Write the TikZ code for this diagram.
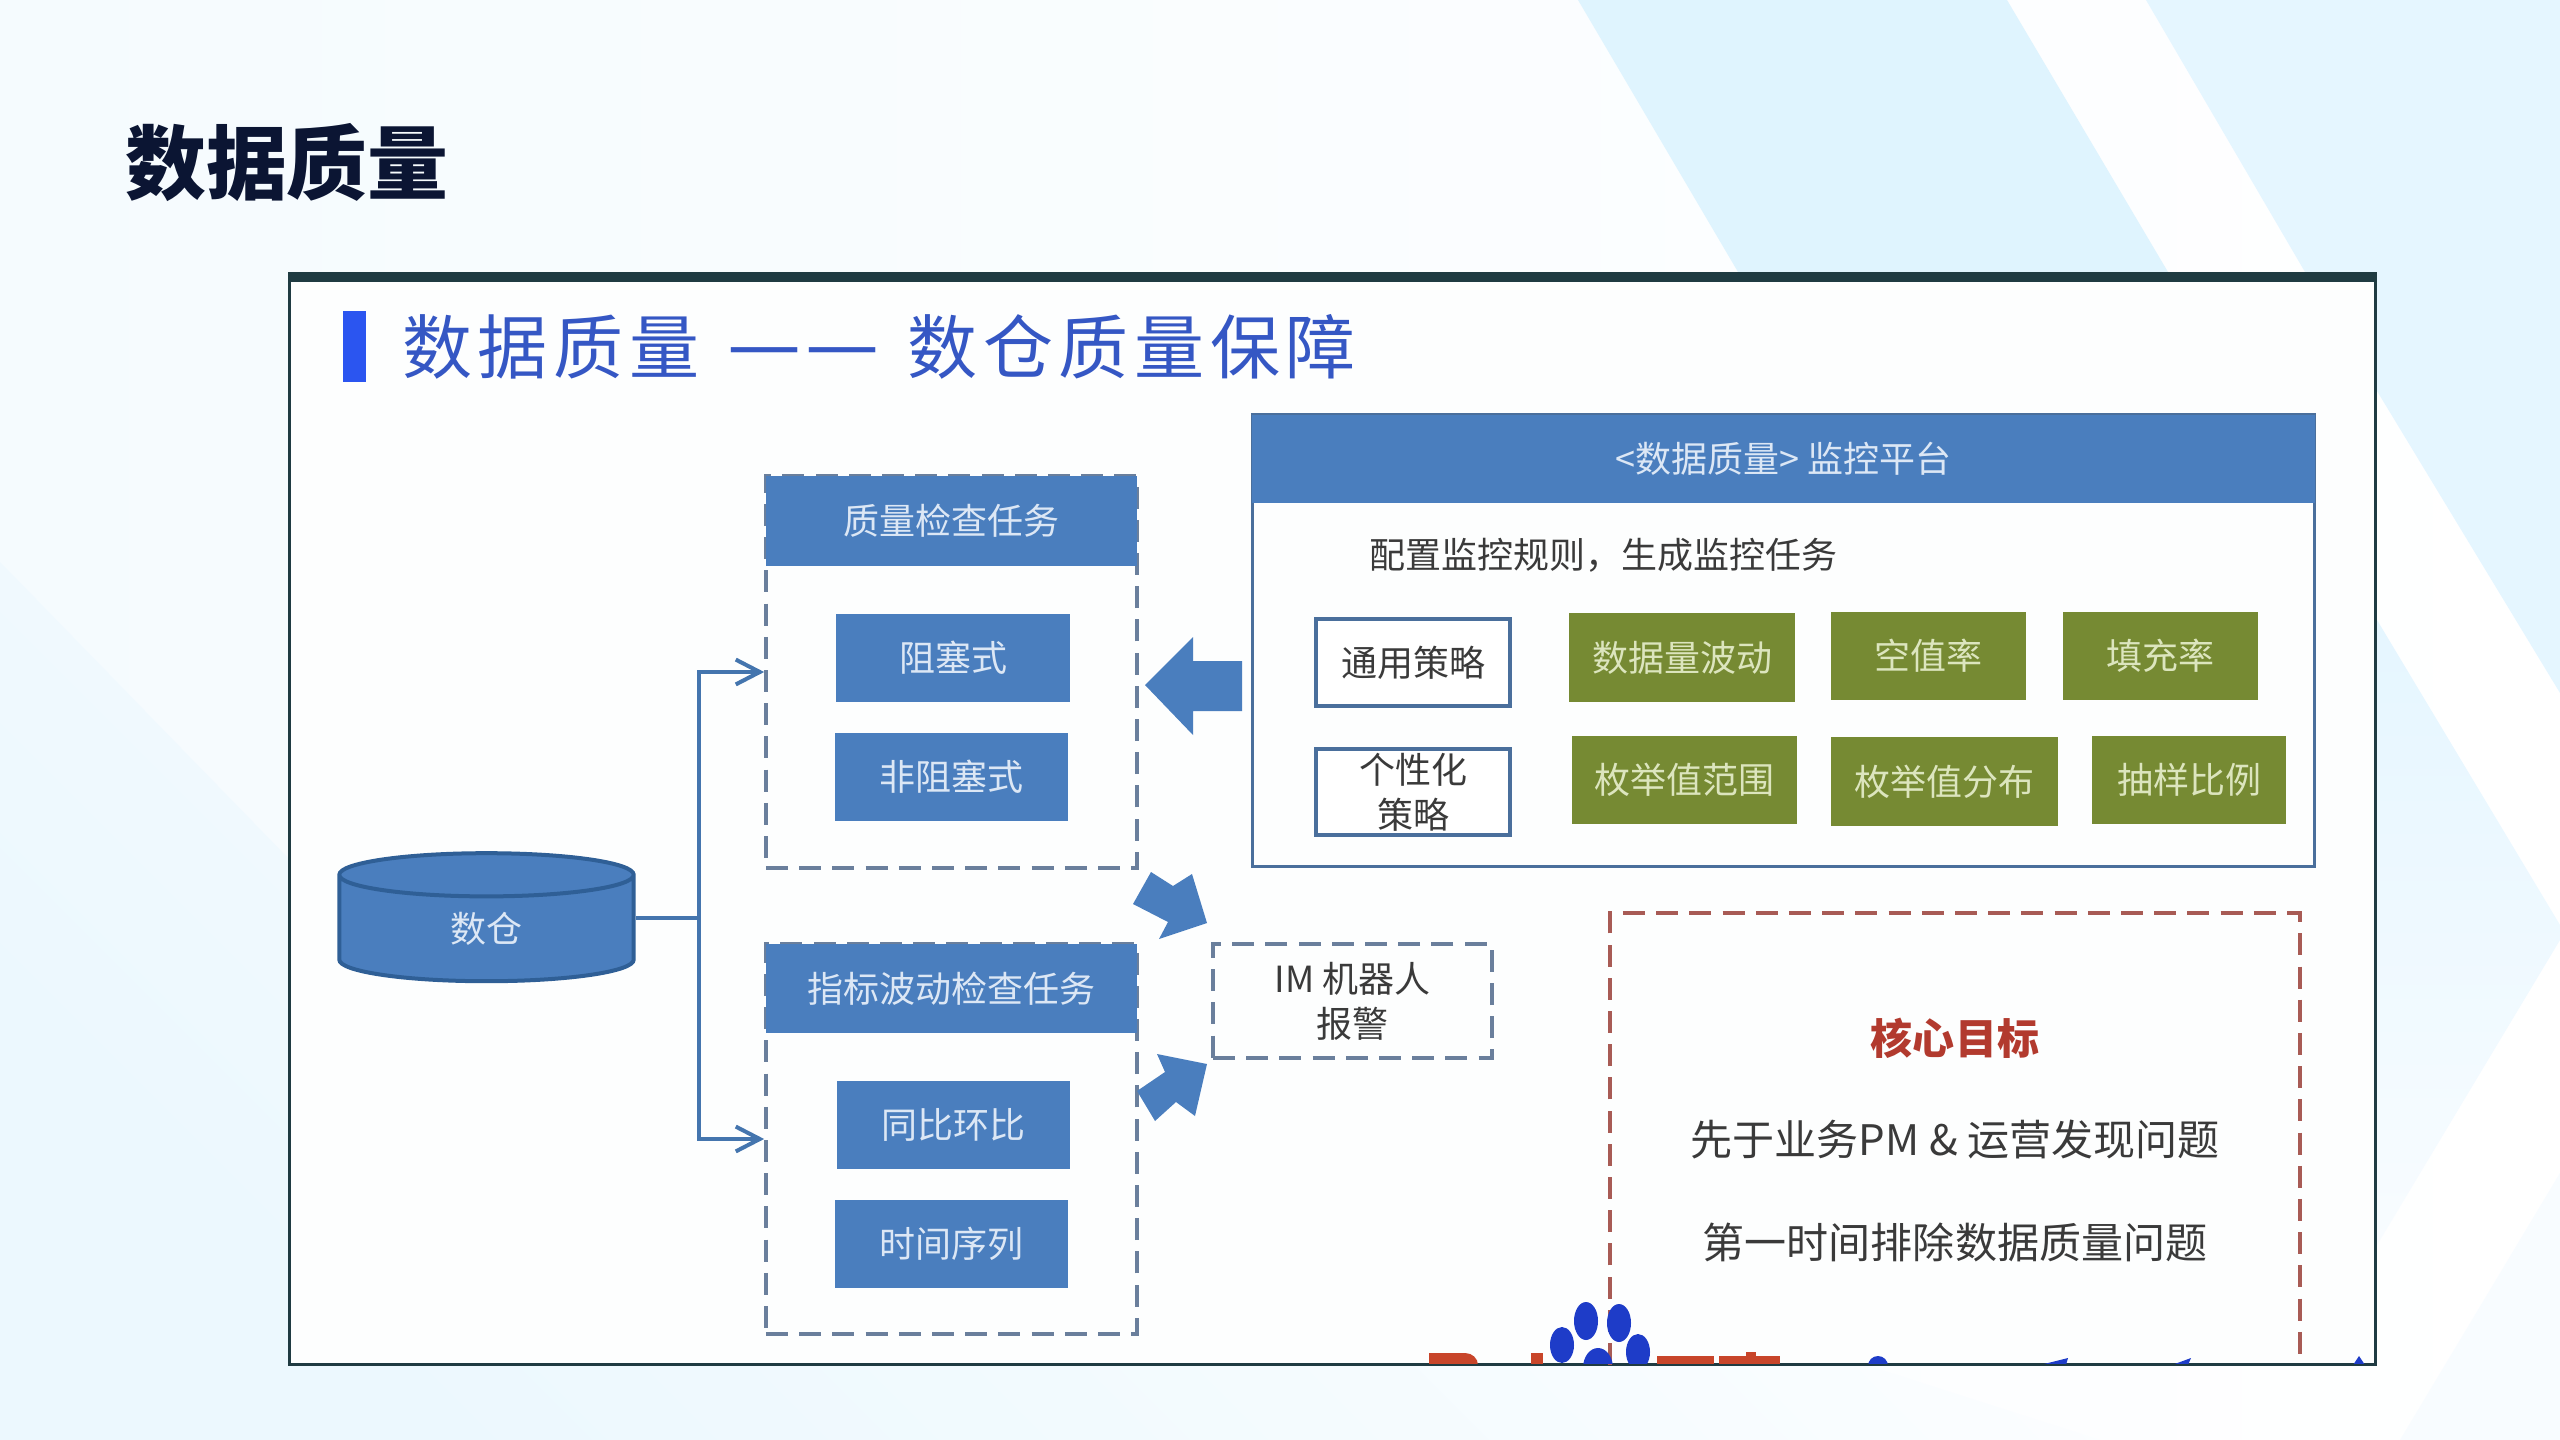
\documentclass[tikz,border=0pt]{standalone}
\usepackage{fontspec}
\usepackage{xcolor}
\usetikzlibrary{arrows.meta,shapes.geometric}
\setmainfont{Noto Sans CJK SC}
\newfontfamily\slidetitlefont[LetterSpace=8]{Noto Sans CJK SC}
\definecolor{BoxBlue}{HTML}{4A7EBE}
\definecolor{BoxGreen}{HTML}{768A33}
\definecolor{PaleBlue}{HTML}{DCE7F5}
\definecolor{PaleGreen}{HTML}{DCE5BE}
\definecolor{DashGray}{HTML}{6A7F9C}
\definecolor{EdgeBlue}{HTML}{4A6F9C}
\definecolor{FlowBlue}{HTML}{4475AE}
\definecolor{CylEdge}{HTML}{2F5F96}
\definecolor{FrameDark}{HTML}{1F3B42}
\definecolor{FrameFill}{HTML}{FDFEFE}
\definecolor{GoalRed}{HTML}{A85B55}
\definecolor{GoalText}{HTML}{B23A2E}
\definecolor{BodyText}{HTML}{3A3A3A}
\definecolor{TitleBlue}{HTML}{3557C4}
\definecolor{TitleBar}{HTML}{2B55F0}
\definecolor{PawBlue}{HTML}{1E3CC8}
\definecolor{MarkRed}{HTML}{C8452A}
\definecolor{SlideInk}{HTML}{0B1533}
\definecolor{BgLeft}{HTML}{F5FBFE}
\definecolor{BgLow}{HTML}{ECF8FE}
\definecolor{BandOne}{HTML}{DFF4FE}
\definecolor{BandTwo}{HTML}{E5F6FF}
\definecolor{BandFade}{HTML}{F8FCFF}
\tikzset{
  headbox/.style={fill=BoxBlue, text=PaleBlue, inner sep=0pt, font=\fontsize{25.6}{30}\selectfont},
  bluebox/.style={headbox, minimum height=2.2cm},
  greenbox/.style={fill=BoxGreen, text=PaleGreen, inner sep=0pt, font=\fontsize{25.6}{30}\selectfont},
  dashframe/.style={draw=DashGray, line width=0.09cm, dash pattern=on 0.55cm off 0.28cm, inner sep=0pt},
  rulebox/.style={draw=EdgeBlue, line width=0.1cm, fill=white, text=BodyText, inner sep=0pt, align=center, font=\fontsize{25.6}{32}\selectfont},
  flowline/.style={draw=FlowBlue, line width=0.1cm, -{Straight Barb[length=0.6cm,width=0.62cm]}},
  bigarrow/.style={fill=BoxBlue},
  goalline/.style={draw=GoalRed, line width=0.085cm, dash pattern=on 0.55cm off 0.28cm},
  goaltext/.style={text=BodyText, inner sep=0pt, font=\fontsize{29.9}{36}\selectfont},
  pawtoe/.style={fill=PawBlue},
}
\begin{document}
\begin{tikzpicture}[x=0.025cm,y=-0.025cm]
\useasboundingbox (0,0) rectangle (2560,1440);
% slide background
\shade[left color=BgLeft, right color=white] (0,0) rectangle (2560,1440);
\shade[top color=white, bottom color=BgLow, shading angle=-45] (0,562) -- (290,860) -- (2100,1440) -- (0,1440) -- cycle;
\fill[BandOne] (1578,0) -- (2007,0) -- (2168,272) -- (1738,272) -- cycle;
\fill[BandTwo] (2146,0) -- (2560,0) -- (2560,693) -- (2377,391) -- (2305,272) -- cycle;
\shade[top color=BandTwo, bottom color=BandFade] (2377,620) -- (2560,925) -- (2560,940) -- (2377,1245) -- cycle;
\fill[BandFade] (2560,1173) -- (2400,1440) -- (2560,1440) -- cycle;
\node[anchor=west, inner sep=0pt, text=SlideInk, font=\fontsize{57.5}{64}\selectfont\bfseries] (slidetitle) at (125,163) {数据质量};
% screenshot frame
\fill[FrameFill] (288,272) rectangle (2377,1365);
\draw[FrameDark, line width=0.075cm] (289,272) -- (289,1364) -- (2375,1364) -- (2375,272);
\fill[FrameDark] (288,272) rectangle (2377,282);
\fill[TitleBar] (343,311) rectangle (366,382);
\node[anchor=west, inner sep=0pt, text=TitleBlue, font=\fontsize{49.8}{56}\slidetitlefont] (frametitle) at (402,347) {数据质量\hspace{0.7cm}{\fontsize{59}{64}\selectfont —\hspace{0.1cm}—}\hspace{0.7cm}数仓质量保障};
% warehouse and task groups
\node[cylinder, shape border rotate=90, aspect=0.6, draw=CylEdge, line width=0.1cm, fill=BoxBlue, text=PaleBlue, minimum width=7.36cm, minimum height=3.2cm, inner sep=0pt, font=\fontsize{25.6}{30}\selectfont] (warehouse) at (486.5,929) {数仓};
\node[dashframe, minimum width=9.275cm, minimum height=9.8cm] (qcframe) at (951.5,672) {};
\node[headbox, minimum width=9.275cm, minimum height=2.25cm] (qchead) at (951.5,521) {质量检查任务};
\node[bluebox, minimum width=5.85cm] (blocking) at (953,658) {阻塞式};
\node[bluebox, minimum width=5.825cm] (nonblocking) at (951.5,777) {非阻塞式};
\node[dashframe, minimum width=9.275cm, minimum height=9.75cm] (idxframe) at (951.5,1139) {};
\node[headbox, minimum width=9.275cm, minimum height=2.225cm] (idxhead) at (951.5,988.5) {指标波动检查任务};
\node[bluebox, minimum width=5.825cm] (yoy) at (953.5,1125) {同比环比};
\node[bluebox, minimum width=5.825cm] (tseries) at (951.5,1244) {时间序列};
\coordinate (trunk) at (699,917.5);
\draw[flowline] (warehouse.east |- trunk) -- (trunk) |- (qcframe.west);
\draw[flowline] (trunk) |- (idxframe.west);
% monitoring platform
\node[draw=EdgeBlue, line width=0.075cm, minimum width=26.55cm, minimum height=11.3cm, inner sep=0pt] (monitor) at (1783.5,640.5) {};
\node[headbox, minimum width=26.55cm, minimum height=2.2cm] (monhead) at (1783.5,459) {<数据质量> 监控平台};
\node[anchor=west, inner sep=0pt, text=BodyText, font=\fontsize{25.6}{30}\selectfont] (cfgtext) at (1369,555) {配置监控规则，生成监控任务};
\node[rulebox, minimum width=4.85cm, minimum height=2.175cm] (common) at (1413,662.5) {通用策略};
\node[rulebox, minimum width=4.85cm, minimum height=2.15cm] (custom) at (1413,792) {个性化\\策略};
\node[greenbox, minimum width=5.65cm, minimum height=2.225cm] (volume) at (1682,657.5) {数据量波动};
\node[greenbox, minimum width=4.875cm, minimum height=2.2cm] (nullrate) at (1928.5,656) {空值率};
\node[greenbox, minimum width=4.875cm, minimum height=2.2cm] (fillrate) at (2160.5,656) {填充率};
\node[greenbox, minimum width=5.625cm, minimum height=2.2cm] (enumrange) at (1684.5,780) {枚举值范围};
\node[greenbox, minimum width=5.675cm, minimum height=2.225cm] (enumdist) at (1944.5,781.5) {枚举值分布};
\node[greenbox, minimum width=4.85cm, minimum height=2.2cm] (sampling) at (2189,780) {抽样比例};
% block arrows
\fill[bigarrow] (1242,661) -- (1193,661) -- (1193,637) -- (1145,685) -- (1193,735) -- (1193,711) -- (1242,711) -- cycle;
\fill[bigarrow] (1151,872) -- (1173,886) -- (1192,874) -- (1207,923) -- (1159,939) -- (1168,922) -- (1133,904) -- cycle;
\fill[bigarrow] (1137,1091) -- (1165,1072) -- (1157,1054) -- (1207,1064) -- (1195,1116) -- (1176,1102) -- (1155,1121) -- cycle;
\node[dashframe, text=BodyText, align=center, minimum width=6.975cm, minimum height=2.85cm, font=\fontsize{25.6}{32}\selectfont] (imbot) at (1352.5,1001) {IM 机器人\\报警};
% core goals
\draw[goalline] (1610,1365) |- (2300,913) -- (2300,1365);
\node[text=GoalText, inner sep=0pt, font=\fontsize{29.9}{36}\selectfont\bfseries] (goalhead) at (1955,1038) {核心目标};
\node[goaltext] (goalone) at (1955,1140) {先于业务PM \& 运营发现问题};
\node[goaltext] (goaltwo) at (1955,1242) {第一时间排除数据质量问题};
% cut off logo at the lower edge
\begin{scope}
\clip (288,282) rectangle (2377,1363);
\fill[pawtoe] (1586,1321) ellipse (12 and 19);
\fill[pawtoe] (1619,1323) ellipse (12 and 19);
\fill[pawtoe] (1562,1345) ellipse (12 and 18);
\fill[pawtoe] (1638,1352) ellipse (12 and 18);
\fill[pawtoe] (1598,1368) ellipse (15 and 20);
\fill[MarkRed] (1429,1353) rectangle (1465,1365);
\fill[MarkRed] (1465,1365) ellipse (13 and 12);
\fill[MarkRed] (1531,1353) rectangle (1543,1365);
\fill[MarkRed] (1657,1356) rectangle (1714,1365);
\fill[MarkRed] (1719,1356) rectangle (1780,1365);
\fill[MarkRed] (1746,1352) rectangle (1756,1358);
\fill[pawtoe] (1878,1366) circle (10);
\fill[pawtoe] (2040,1365) -- (2068,1358) -- (2066,1365) -- cycle;
\fill[pawtoe] (2172,1365) -- (2191,1358) -- (2188,1365) -- cycle;
\fill[pawtoe] (2353,1365) -- (2359,1356) -- (2365,1365) -- cycle;
\end{scope}
\end{tikzpicture}
\end{document}
